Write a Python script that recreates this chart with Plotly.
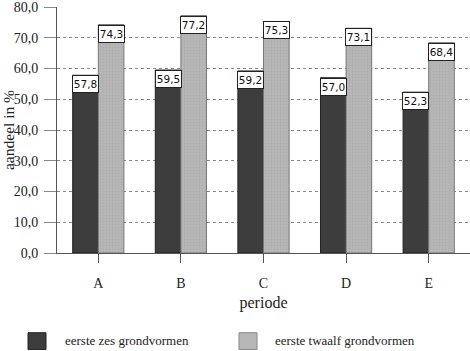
import plotly.graph_objects as go

categories = ["A", "B", "C", "D", "E"]
zes = [57.8, 59.5, 59.2, 57.0, 52.3]
twaalf = [74.3, 77.2, 75.3, 73.1, 68.4]
y_ticks = [0, 10, 20, 30, 40, 50, 60, 70, 80]
series_names = ["eerste zes grondvormen", "eerste twaalf grondvormen"]

W = 0.31
xs = list(range(len(categories)))
DARK = "#3d3d3d"
LIGHT = "#b7b7b7"
SERIF = "Liberation Serif"

fig = go.Figure()
fig.add_trace(go.Bar(x=xs, y=zes, width=W, offset=-W, name=series_names[0],
                     marker=dict(color=DARK, line=dict(color="#222", width=1)),
                     showlegend=False))
fig.add_trace(go.Bar(x=xs, y=twaalf, width=W, offset=0, name=series_names[1],
                     marker=dict(color=LIGHT, line=dict(color="#777", width=1),
                                 pattern=dict(shape=".", fgcolor="#a4a4a4", size=3, solidity=0.3)),
                     showlegend=False))

def fmt(v):
    return f"{v:.1f}".replace(".", ",")

for i in xs:
    for v, off in ((zes[i], -W / 2), (twaalf[i], W / 2)):
        fig.add_annotation(x=i + off, y=v, xref="x", yref="y", text=fmt(v),
                           showarrow=False, yanchor="top", xanchor="center",
                           width=23, height=14, bgcolor="white", bordercolor="#222",
                           borderwidth=1, borderpad=1,
                           font=dict(family="DejaVu Sans", size=10.5, color="#111"))

# manual legend
def px2x(px):
    return (px - 57) / 413
def px2y(py):
    return (253 - py) / 250

for (x0, col, lc, tx, name) in ((28, DARK, "#222", 63, series_names[0]),
                               (239, LIGHT, "#888", 273, series_names[1])):
    fig.add_shape(type="rect", xref="paper", yref="paper",
                  x0=px2x(x0), x1=px2x(x0 + 18), y0=px2y(351), y1=px2y(334),
                  fillcolor=col, line=dict(color=lc, width=1))
    fig.add_annotation(xref="paper", yref="paper", x=px2x(tx), y=px2y(342),
                       xanchor="left", yanchor="middle", showarrow=False, text=name,
                       font=dict(family=SERIF, size=13, color="#222"))

fig.update_layout(
    width=470, height=351,
    margin=dict(l=57, r=0, t=3, b=98),
    plot_bgcolor="white", paper_bgcolor="white",
    separators=",.",
    bargap=0.38,
    font=dict(family=SERIF, size=13, color="#222"),
    xaxis=dict(range=[-0.5, len(categories) - 0.5], tickvals=xs, ticktext=categories,
               showgrid=False, showline=True, linecolor="#555", linewidth=1,
               ticks="outside", ticklen=9, tickcolor="#555", zeroline=False,
               ticklabelstandoff=8, tickfont=dict(family=SERIF, size=14, color="#222"),
               title=dict(text="periode", standoff=7,
                          font=dict(family=SERIF, size=16, color="#222"))),
    yaxis=dict(range=[0, 80], tickvals=y_ticks, tickformat=".1f",
               showgrid=True, gridcolor="#888", griddash="dot", gridwidth=1,
               showline=True, linecolor="#555", linewidth=1,
               ticks="outside", ticklen=12, tickcolor="#888", zeroline=False,
               ticklabeloverflow="allow", ticklabelstandoff=3,
               tickfont=dict(family=SERIF, size=14, color="#222"),
               title=dict(text="aandeel in %", standoff=2,
                          font=dict(family=SERIF, size=15.5, color="#222"))),
)

fig.write_html("out.html")
